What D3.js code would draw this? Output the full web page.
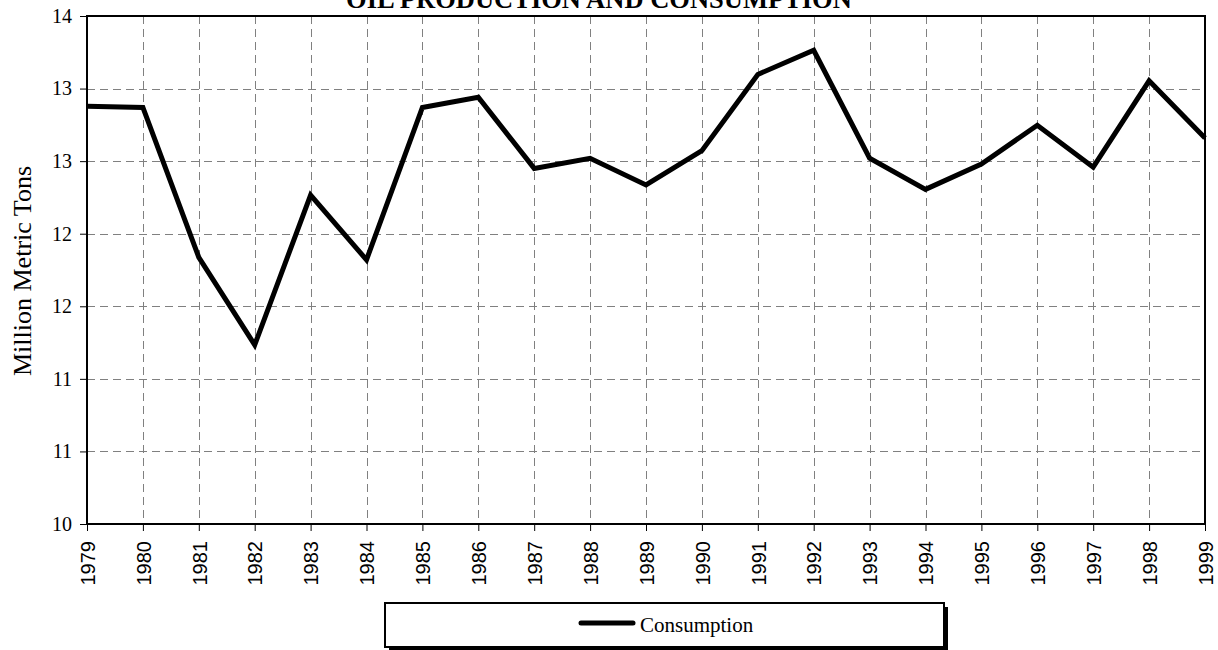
<!DOCTYPE html>
<html>
<head>
<meta charset="utf-8">
<script src="https://cdn.jsdelivr.net/npm/d3@7"></script>
<style>
  html, body { margin: 0; padding: 0; background: #fff; }
  svg { display: block; }
</style>
</head>
<body>
<svg id="chart" width="1218" height="650"></svg>
<script>
const years = [1979,1980,1981,1982,1983,1984,1985,1986,1987,1988,1989,1990,1991,1992,1993,1994,1995,1996,1997,1998,1999];
const consumption = [13.29,13.28,12.10,11.41,12.59,12.08,13.28,13.36,12.80,12.88,12.67,12.94,13.54,13.73,12.88,12.635,12.835,13.14,12.81,13.49,13.04];
const yTickValues = [10, 10 + 4/7, 10 + 8/7, 10 + 12/7, 10 + 16/7, 10 + 20/7, 10 + 24/7, 14];
const yTickLabels = ["10","11","11","12","12","13","13","14"];
const titleText = "OIL PRODUCTION AND CONSUMPTION";
const yTitle = "Million Metric Tons";
const seriesName = "Consumption";

const svg = d3.select("#chart");
const L = 87, R = 1205, T = 16, B = 524;
const x = d3.scaleLinear().domain([1979, 1999]).range([L, R]);
const y = d3.scaleLinear().domain([10, 14]).range([B, T]);

// grid
const grid = svg.append("g").attr("stroke", "#808080").attr("stroke-width", 1).attr("stroke-dasharray", "8,5");
grid.selectAll("line.v").data(years.slice(1, -1)).enter().append("line")
  .attr("x1", d => Math.round(x(d)) + 0.5).attr("x2", d => Math.round(x(d)) + 0.5)
  .attr("y1", T).attr("y2", B);
grid.selectAll("line.h").data(yTickValues.slice(1, -1)).enter().append("line")
  .attr("x1", L).attr("x2", R)
  .attr("y1", d => Math.round(y(d)) + 0.5).attr("y2", d => Math.round(y(d)) + 0.5);

// y axis
const yAxis = d3.axisLeft(y).tickValues(yTickValues).tickSize(7).tickPadding(8)
  .tickFormat((d, i) => yTickLabels[i]);
const gy = svg.append("g").attr("transform", `translate(${L},0)`).call(yAxis);
gy.select(".domain").remove();
gy.selectAll("line").attr("stroke", "#000");
gy.selectAll("text").attr("font-family", "'Liberation Serif', 'Times New Roman', serif").attr("font-size", 20).attr("fill", "#000");

// x axis
const xAxis = d3.axisBottom(x).tickValues(years).tickSize(7).tickFormat(d3.format("d"));
const gx = svg.append("g").attr("transform", `translate(0,${B})`).call(xAxis);
gx.select(".domain").remove();
gx.selectAll("line").attr("stroke", "#000");
gx.selectAll("text")
  .attr("font-family", "'Liberation Sans', Arial, sans-serif").attr("font-size", 20).attr("fill", "#000")
  .attr("text-anchor", "end")
  .attr("transform", "translate(0,17) rotate(-90)")
  .attr("x", 0).attr("y", 0).attr("dy", "0.36em");

// frame
svg.append("rect").attr("x", L).attr("y", T).attr("width", R - L).attr("height", B - T)
  .attr("fill", "none").attr("stroke", "#000").attr("stroke-width", 2);

// line
const line = d3.line().x((d, i) => x(years[i])).y(d => y(d));
svg.append("path").datum(consumption).attr("d", line)
  .attr("fill", "none").attr("stroke", "#000").attr("stroke-width", 5).attr("stroke-linejoin", "miter");

// title
svg.append("text").attr("x", 599).attr("y", 8).attr("text-anchor", "middle")
  .attr("font-family", "'Liberation Serif', 'Times New Roman', serif").attr("font-weight", "bold").attr("font-size", 26.5)
  .text(titleText);

// y title
svg.append("text").attr("transform", "translate(22,271) rotate(-90)").attr("text-anchor", "middle").attr("dy", "0.35em")
  .attr("font-family", "'Liberation Serif', 'Times New Roman', serif").attr("font-size", 26)
  .text(yTitle);

// legend
const lg = svg.append("g");
lg.append("rect").attr("x", 389).attr("y", 607).attr("width", 559).attr("height", 44).attr("fill", "#000");
lg.append("rect").attr("x", 385).attr("y", 603).attr("width", 559).attr("height", 44)
  .attr("fill", "#fff").attr("stroke", "#000").attr("stroke-width", 2);
lg.append("line").attr("x1", 581).attr("x2", 633).attr("y1", 623).attr("y2", 623)
  .attr("stroke", "#000").attr("stroke-width", 5).attr("stroke-linecap", "round");
lg.append("text").attr("x", 640).attr("y", 632)
  .attr("font-family", "'Liberation Serif', 'Times New Roman', serif").attr("font-size", 21)
  .text(seriesName);
</script>
</body>
</html>
